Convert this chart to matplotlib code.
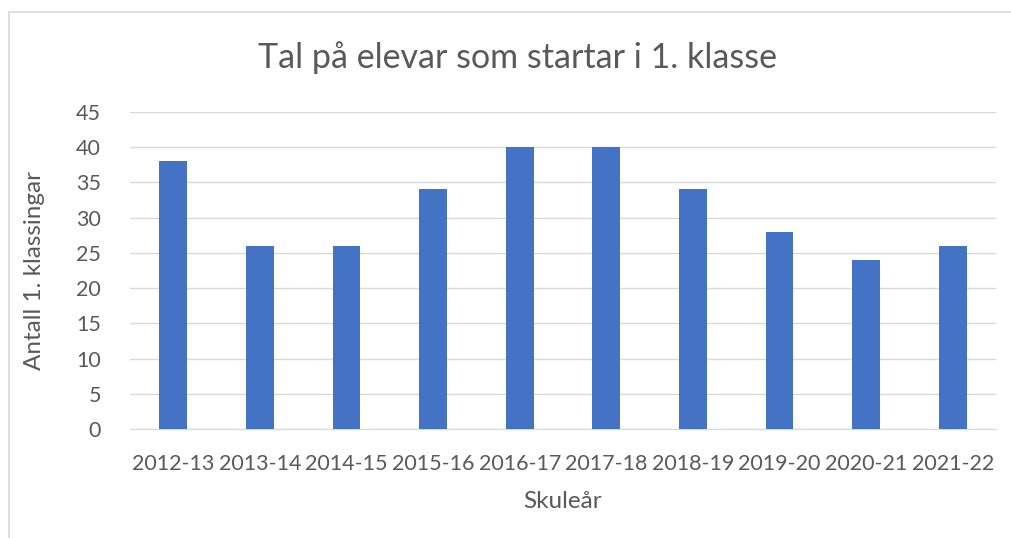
import matplotlib
matplotlib.use("Agg")
import matplotlib.pyplot as plt
from matplotlib.patches import Rectangle

skuleaar = ["2012-13", "2013-14", "2014-15", "2015-16", "2016-17",
            "2017-18", "2018-19", "2019-20", "2020-21", "2021-22"]
antall = [38, 26, 26, 34, 40, 40, 34, 28, 24, 26]
yticks = [0, 5, 10, 15, 20, 25, 30, 35, 40, 45]

plt.rcParams['font.family'] = ['Lato', 'DejaVu Sans']
txt = "#595959"

fig = plt.figure(figsize=(10.11, 5.38), dpi=100)
W, H = 1011, 538
ax = fig.add_axes([130 / W, 1 - 429 / H, (996 - 130) / W, (429 - 112) / H])

x = list(range(len(skuleaar)))
ax.bar(x, antall, width=0.32, color="#4472C4", zorder=3)

ax.set_xlim(-0.5, len(skuleaar) - 0.5)
ax.set_ylim(0, 45)
ax.set_yticks(yticks)
ax.set_xticks(x)
ax.set_xticklabels(skuleaar)
ax.grid(axis="y", color="#D9D9D9", linewidth=1, zorder=0)
for s in ["top", "right", "left"]:
    ax.spines[s].set_visible(False)
ax.spines["bottom"].set_color("#D9D9D9")
ax.tick_params(length=0, labelsize=15.5, colors=txt)
ax.tick_params(axis="x", pad=18)
ax.tick_params(axis="y", pad=21)

ax.set_xlabel("Skuleår", fontsize=17.5, color=txt, labelpad=12)
ax.set_ylabel("Antall 1. klassingar", fontsize=17.5, color=txt, labelpad=22)
fig.text(518 / W, 1 - 58 / H, "Tal på elevar som startar i 1. klasse",
         ha="center", va="center", fontsize=24.5, color=txt)

fig.patches.append(Rectangle((9 / W, -0.1), 1.2, 1 - 12.5 / H + 0.1,
                             transform=fig.transFigure, fill=False,
                             edgecolor="#D9D9D9", linewidth=1.2))

fig.savefig("out.png", dpi=100)
